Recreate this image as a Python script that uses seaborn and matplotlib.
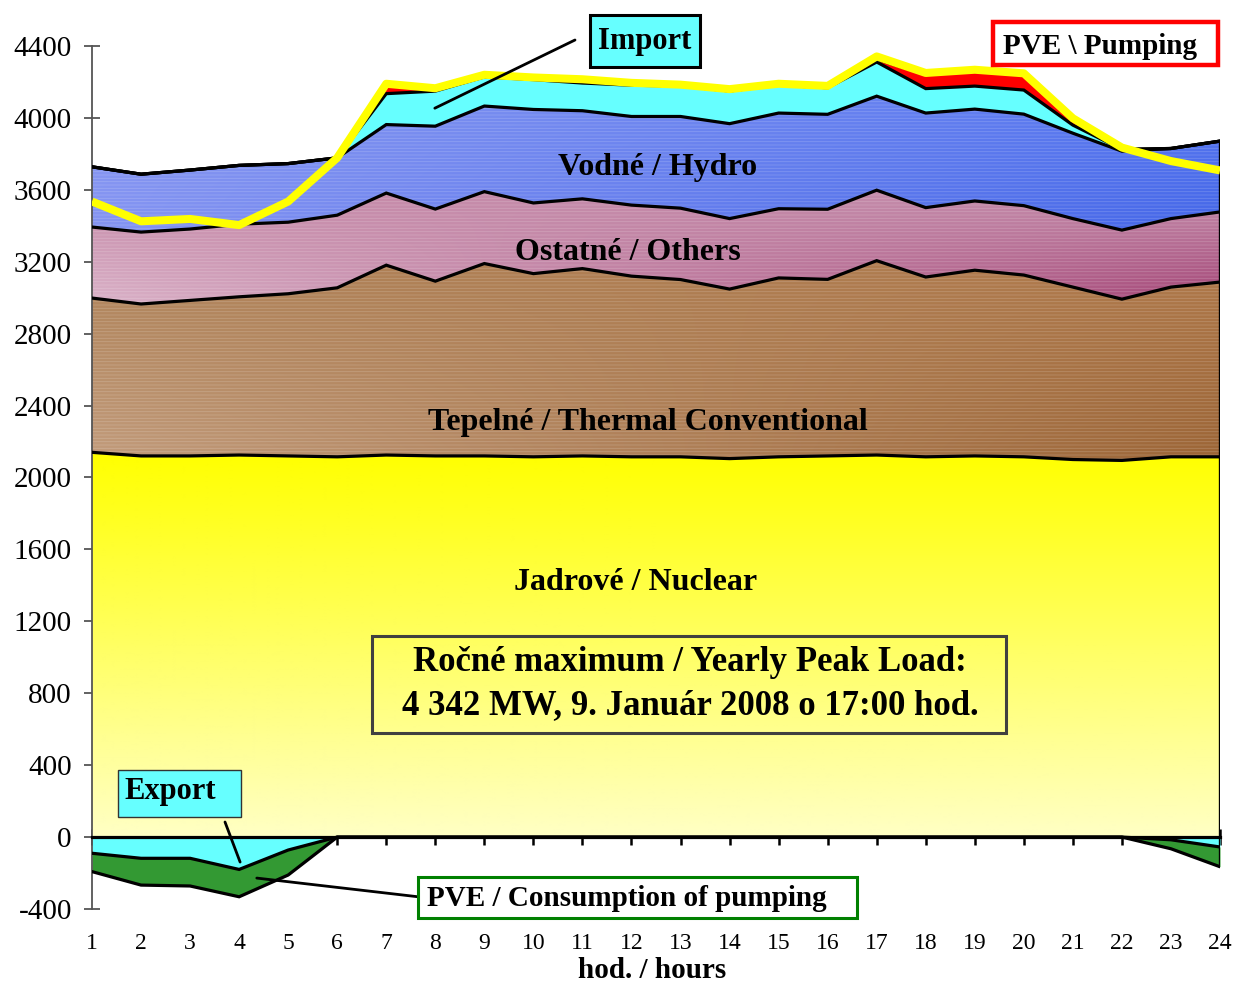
import numpy as np
import pandas as pd
import matplotlib
matplotlib.use("Agg")
import matplotlib.pyplot as plt
import seaborn as sns
from matplotlib.colors import to_rgb
from matplotlib.patches import Rectangle

# ---------------- data (MW) ----------------
hours = list(range(1, 25))
nuclear = [2140, 2120, 2120, 2125, 2120, 2115, 2125, 2120, 2120, 2115, 2120, 2115,
           2115, 2105, 2115, 2120, 2125, 2115, 2120, 2115, 2100, 2095, 2115, 2115]
thermal = [858, 845, 865, 880, 902, 940, 1056, 972, 1070, 1019, 1042, 1005,
           986, 943, 995, 982, 1081, 1000, 1033, 1011, 959, 897, 944, 972]
others = [395, 400, 397, 404, 398, 404, 401, 401, 400, 393, 388, 395,
          397, 392, 385, 390, 392, 386, 385, 386, 381, 384, 381, 390]
hydro = [335, 322, 328, 327, 326, 319, 381, 461, 476, 520, 490, 493,
         510, 528, 532, 528, 523, 526, 511, 509, 475, 439, 390, 394]
imports = [0, 0, 0, 0, 0, 0, 172, 195, 162, 166, 154, 174,
           169, 182, 155, 148, 190, 136, 128, 134, 45, 10, 0, 0]
pumping = [0, 0, 0, 0, 0, 0, 45, 10, 5, 5, 12, 3,
           0, 0, 0, 0, 15, 80, 85, 85, 30, 0, 0, 0]
export = [90, 118, 118, 180, 72, 0, 0, 0, 0, 0, 0, 0,
          0, 0, 0, 0, 0, 0, 0, 0, 0, 0, 15, 55]
pve_consumption = [102, 149, 154, 152, 139, 0, 0, 0, 0, 0, 0, 0,
                   0, 0, 0, 0, 0, 0, 0, 0, 0, 0, 50, 110]
load = [3535, 3425, 3438, 3404, 3535, 3778, 4190, 4165, 4240, 4225, 4215, 4195,
        4185, 4160, 4190, 4178, 4342, 4250, 4268, 4248, 3998, 3835, 3760, 3708]
y_ticks = list(range(-400, 4401, 400))

layer_names = ["Jadrové / Nuclear", "Tepelné / Thermal Conventional",
               "Ostatné / Others", "Vodné / Hydro"]
peak_text = "Ročné maximum / Yearly Peak Load:\n4 342 MW, 9. Január 2008 o 17:00 hod."

# ---------------- style ----------------
sns.set_theme(style="white")
plt.rcParams["font.family"] = ["Liberation Serif", "DejaVu Serif"]
plt.rcParams["hatch.linewidth"] = 0.6

W, H = 1236, 985
fig = plt.figure(figsize=(W / 100, H / 100), dpi=100)
ax = fig.add_axes([92 / W, 76 / H, 1128 / W, 863 / H])
ax.set_xlim(1, 24)
ax.set_ylim(-400, 4400)
ax.set_autoscale_on(False)

x = np.array(hours, dtype=float)
c0 = np.zeros(len(x))
c1 = c0 + np.array(nuclear)
c2 = c1 + np.array(thermal)
c3 = c2 + np.array(others)
c4 = c3 + np.array(hydro)
c5 = c4 + np.array(imports)
c6 = c5 + np.array(pumping)
n1 = -np.array(export, dtype=float)
n2 = n1 - np.array(pve_consumption)


def gradient_fill(lo, hi, corners, texture=True):
    poly = ax.fill_between(x, lo, hi, facecolor="none", edgecolor="none", lw=0)
    ymin, ymax = float(np.min(lo)), float(np.max(hi))
    nx, ny = 240, 240
    X, Y = np.meshgrid(np.linspace(0, 1, nx), np.linspace(0, 1, ny))
    tl, tr, bl, br = [np.array(to_rgb(c)) for c in corners]
    X = X[..., None]
    Y = Y[..., None]
    img = (bl * (1 - X) * (1 - Y) + br * X * (1 - Y) + tl * (1 - X) * Y + tr * X * Y)
    im = ax.imshow(img, extent=[x[0], x[-1], ymin, ymax], origin="lower",
                   aspect="auto", zorder=1, interpolation="bilinear")
    im.set_clip_path(poly.get_paths()[0], transform=ax.transData)
    if texture:
        ax.fill_between(x, lo, hi, facecolor="none", edgecolor=(1, 1, 1, 0.18),
                        lw=0, hatch="-----", zorder=1.5)


# Nuclear: vertical yellow gradient
gradient_fill(c0, c1, ["#FFFF00", "#FFFF00", "#FFFFC4", "#FFFFC4"], texture=False)
# Thermal
gradient_fill(c1, c2, ["#AE8258", "#B07A4C", "#C29C7C", "#9C6536"])
# Others
gradient_fill(c2, c3, ["#C68AA8", "#C48EAC", "#DAB2C8", "#A44576"])
# Hydro
gradient_fill(c3, c4, ["#8898F0", "#5878F0", "#8494F2", "#4466E8"])
# Import / pumping
ax.fill_between(x, c4, c5, color="#66FFFF", lw=0, zorder=2)
ax.fill_between(x, c5, c6, color="#FF0000", lw=0, zorder=2)
# Export / PVE consumption
ax.fill_between(x, c0, n1, color="#66FFFF", lw=0, zorder=2)
ax.fill_between(x, n1, n2, color="#339933", lw=0, zorder=2)

for top in (c1, c2, c3, c4, c5, c6, n1, n2):
    ax.plot(x, top, color="black", lw=2.3, zorder=3, solid_joinstyle="miter")
ax.vlines(x[-1], n2[-1], c6[-1], color="black", lw=2.4, zorder=3)

# load line
df = pd.DataFrame({"hour": hours, "load": load})
sns.lineplot(data=df, x="hour", y="load", color="#FFFF00", lw=5.8, ax=ax,
             zorder=5, solid_capstyle="butt")
ax.set_xlabel("")
ax.set_ylabel("")

# axes / ticks
for s in ("top", "right"):
    ax.spines[s].set_visible(False)
ax.spines["bottom"].set_position(("data", 0))
ax.spines["bottom"].set_color("black")
ax.spines["bottom"].set_linewidth(2.3)
ax.spines["bottom"].set_zorder(6)
ax.spines["left"].set_color("#555555")
ax.spines["left"].set_linewidth(1.3)
ax.set_xticks(hours)
ax.set_xticklabels([str(h) for h in hours])
ax.set_yticks(y_ticks)
ax.set_yticklabels([str(v) for v in y_ticks])
ax.tick_params(axis="x", bottom=True, direction="inout", length=12, width=1.8,
               color="black", labelsize=17, pad=63, labelcolor="black")
ax.tick_params(axis="y", left=True, direction="inout", length=11, width=1.3,
               color="#555555", labelsize=21, pad=9, labelcolor="black")
ax.grid(False)
ax.set_facecolor("none")


def fx(px):
    return px / W


def fy(py):
    return 1 - py / H


def box(x0, y0, x1, y1, face, edge, lw):
    fig.patches.append(Rectangle((fx(x0), fy(y1)), fx(x1) - fx(x0), fy(y0) - fy(y1),
                                 transform=fig.transFigure, facecolor=face,
                                 edgecolor=edge, lw=lw, zorder=10))


bold = dict(fontweight="bold", color="black", ha="center", va="center")
fig.text(fx(658), fy(167), layer_names[3], fontsize=23, **bold)
fig.text(fx(628), fy(252), layer_names[2], fontsize=23, **bold)
fig.text(fx(648), fy(423), layer_names[1], fontsize=23, **bold)
fig.text(fx(636), fy(582), layer_names[0], fontsize=23, **bold)

box(372, 636, 1006, 733, "none", "#404040", 2.2)
fig.text(fx(690), fy(684), peak_text, fontsize=25, linespacing=1.42, zorder=11, **bold)

box(590, 15, 700, 67, "#66FFFF", "black", 2.2)
fig.text(fx(645), fy(41), "Import", fontsize=22, zorder=11, **bold)

box(993, 22, 1218, 65, "white", "#FF0000", 3.2)
fig.text(fx(1100), fy(46), "PVE \\ Pumping", fontsize=21, zorder=11, **bold)

box(118, 770, 241, 817, "#66FFFF", "#333333", 1.0)
fig.text(fx(170), fy(792), "Export", fontsize=22, zorder=11, **bold)

box(418, 877, 857, 918, "white", "#008000", 2.2)
fig.text(fx(627), fy(899), "PVE / Consumption of pumping", fontsize=21, zorder=11, **bold)

fig.text(fx(652), fy(970), "hod. / hours", fontsize=21, **bold)

# leader lines (figure pixel space -> data tips)
ax.annotate("", xy=(7.99, 4054), xycoords="data", xytext=(575, H - 40),
            textcoords="figure pixels",
            arrowprops=dict(arrowstyle="-", lw=2, color="black", shrinkA=0, shrinkB=0),
            zorder=7)
ax.annotate("", xy=(4.02, -139), xycoords="data", xytext=(225, H - 822),
            textcoords="figure pixels",
            arrowprops=dict(arrowstyle="-", lw=2, color="black", shrinkA=0, shrinkB=0),
            zorder=7)
ax.annotate("", xy=(4.36, -228), xycoords="data", xytext=(420, H - 897),
            textcoords="figure pixels",
            arrowprops=dict(arrowstyle="-", lw=2, color="black", shrinkA=0, shrinkB=0),
            zorder=7)

fig.savefig("out.png", dpi=100)
